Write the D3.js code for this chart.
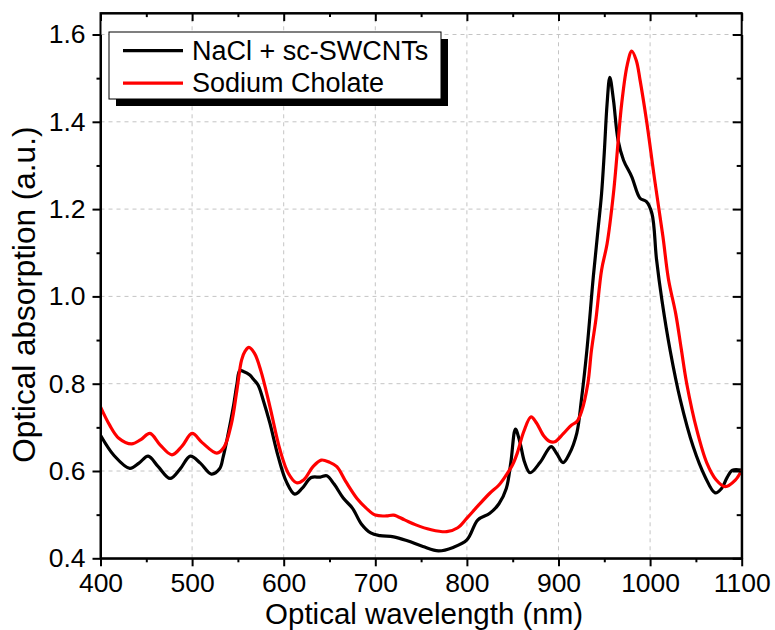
<!DOCTYPE html>
<html lang="en">
<head>
<meta charset="UTF-8">
<title>Optical absorption spectra</title>
<style>
  body { margin: 0; background: #fff; }
  svg { display: block; font-family: "Liberation Sans", Arial, sans-serif; }
  .grid line { stroke: #c4c4c4; stroke-width: 1; stroke-dasharray: 4,4; }
  .axis path, .axis line { stroke: #000; stroke-width: 2; }
  .axis text { font-size: 26.5px; fill: #000; }
  .spectrum { fill: none; stroke-width: 3.2; stroke-linejoin: round; }
  .title { font-size: 29.5px; fill: #000; }
  .legend text { font-size: 27px; fill: #000; }
</style>
<script src="https://d3js.org/d3.v7.min.js"></script>
</head>
<body>
<script>
// spectra: [wavelength nm, absorption a.u.]
const naclSpectrum = [
  [400, 0.682], [415, 0.635], [432, 0.606], [442, 0.618], [452, 0.634],
  [463, 0.610], [476, 0.583], [487, 0.605], [498, 0.634], [509, 0.618],
  [521, 0.593], [530, 0.605], [534, 0.633], [538, 0.671], [545, 0.747],
  [549, 0.800], [552, 0.830], [556, 0.828], [563, 0.820], [567, 0.810],
  [572, 0.797], [578, 0.760], [585, 0.709], [594, 0.633], [603, 0.575],
  [612, 0.547], [620, 0.560], [630, 0.585], [640, 0.586], [647, 0.589],
  [655, 0.570], [665, 0.538], [675, 0.515], [685, 0.478], [695, 0.458],
  [705, 0.452], [720, 0.449], [735, 0.440], [752, 0.427], [769, 0.417],
  [785, 0.425], [800, 0.442], [812, 0.488], [825, 0.503], [835, 0.525],
  [843, 0.560], [848, 0.620], [853, 0.696], [858, 0.665], [863, 0.620],
  [869, 0.596], [880, 0.620], [892, 0.656], [898, 0.640], [905, 0.619],
  [912, 0.640], [920, 0.687], [925, 0.763], [931, 0.877], [938, 1.045],
  [943, 1.150], [947, 1.235], [950, 1.330], [953, 1.440], [956, 1.502],
  [960, 1.450], [965, 1.358], [971, 1.312], [980, 1.274], [989, 1.225],
  [996, 1.217], [1002, 1.190], [1007, 1.085], [1013, 0.990], [1022, 0.875],
  [1033, 0.763], [1047, 0.656], [1060, 0.587], [1071, 0.550], [1078, 0.560],
  [1084, 0.585], [1090, 0.602], [1100, 0.602]
];

const cholateSpectrum = [
  [400, 0.747], [410, 0.705], [420, 0.675], [434, 0.662], [444, 0.672],
  [454, 0.686], [465, 0.660], [478, 0.637], [489, 0.657], [500, 0.686],
  [511, 0.665], [527, 0.641], [535, 0.655], [543, 0.709], [549, 0.786],
  [554, 0.854], [558, 0.875], [562, 0.883], [568, 0.870], [575, 0.830],
  [585, 0.747], [596, 0.648], [605, 0.595], [614, 0.573], [622, 0.580],
  [632, 0.610], [641, 0.625], [650, 0.620], [658, 0.610], [668, 0.575],
  [680, 0.537], [690, 0.515], [700, 0.499], [712, 0.497], [720, 0.499],
  [732, 0.488], [745, 0.476], [760, 0.466], [778, 0.461], [790, 0.470],
  [800, 0.492], [812, 0.520], [825, 0.549], [835, 0.568], [843, 0.591],
  [850, 0.615], [855, 0.641], [862, 0.690], [870, 0.724], [876, 0.710],
  [884, 0.680], [890, 0.668], [896, 0.667], [905, 0.685], [914, 0.705],
  [920, 0.713], [925, 0.735], [932, 0.800], [936, 0.877], [941, 0.950],
  [947, 1.060], [953, 1.120], [960, 1.236], [969, 1.442], [975, 1.530],
  [980, 1.562], [985, 1.540], [989, 1.496], [996, 1.404], [1005, 1.267],
  [1014, 1.137], [1020, 1.040], [1028, 0.960], [1034, 0.880], [1040, 0.800],
  [1051, 0.694], [1062, 0.618], [1072, 0.580], [1082, 0.564], [1093, 0.579],
  [1100, 0.602]
];

const seriesNames = ["NaCl + sc-SWCNTs", "Sodium Cholate"];
const seriesColors = ["#000000", "#ff0000"];
const xMajorTicks = [400, 500, 600, 700, 800, 900, 1000, 1100];
const xMinorTicks = [450, 550, 650, 750, 850, 950, 1050];
const yMajorTicks = [0.4, 0.6, 0.8, 1.0, 1.2, 1.4, 1.6];
const yMinorTicks = [0.5, 0.7, 0.9, 1.1, 1.3, 1.5];

const width = 775, height = 630;
const plotLeft = 100.5, plotRight = 741.7, plotBottom = 558.3;

const x = d3.scaleLinear().domain([400, 1100]).range([plotLeft, plotRight]);
const y = d3.scaleLinear().domain([0.4, 1.6]).range([plotBottom, 34.5]);
const plotTop = y(1.649);

const svg = d3.select("body").append("svg")
  .attr("width", width)
  .attr("height", height);

// dashed grid
const grid = svg.append("g").attr("class", "grid");
grid.selectAll(".gx")
  .data(xMajorTicks.filter(d => d > 400 && d < 1100))
  .enter().append("line")
  .attr("x1", d => x(d)).attr("x2", d => x(d))
  .attr("y1", plotBottom).attr("y2", plotTop);
grid.selectAll(".gy")
  .data(yMajorTicks.filter(d => d > 0.4))
  .enter().append("line")
  .attr("x1", plotLeft).attr("x2", plotRight)
  .attr("y1", d => y(d)).attr("y2", d => y(d));

// curves
const line = d3.line()
  .x(d => x(d[0]))
  .y(d => y(d[1]))
  .curve(d3.curveCatmullRom.alpha(0.5));

svg.append("clipPath").attr("id", "plot-clip")
  .append("rect")
  .attr("x", plotLeft).attr("y", plotTop)
  .attr("width", plotRight - plotLeft).attr("height", plotBottom - plotTop);

const plot = svg.append("g").attr("clip-path", "url(#plot-clip)");
[naclSpectrum, cholateSpectrum].forEach((s, i) => {
  plot.append("path")
    .datum(s)
    .attr("class", "spectrum")
    .attr("stroke", seriesColors[i])
    .attr("d", line);
});

// axes
svg.append("g").attr("class", "axis")
  .attr("transform", `translate(0,${plotBottom})`)
  .call(d3.axisBottom(x).tickValues(xMajorTicks).tickSize(8).tickSizeOuter(0).tickPadding(7).tickFormat(d3.format("d")));
svg.append("g").attr("class", "axis")
  .attr("transform", `translate(0,${plotBottom})`)
  .call(d3.axisBottom(x).tickValues(xMinorTicks).tickSize(4).tickSizeOuter(0).tickFormat(""))
  .select(".domain").remove();

svg.append("g").attr("class", "axis")
  .attr("transform", `translate(${plotLeft},0)`)
  .call(d3.axisLeft(y).tickValues(yMajorTicks).tickSize(8).tickSizeOuter(0).tickPadding(7).tickFormat(d3.format(".1f")));
svg.append("g").attr("class", "axis")
  .attr("transform", `translate(${plotLeft},0)`)
  .call(d3.axisLeft(y).tickValues(yMinorTicks).tickSize(4).tickSizeOuter(0).tickFormat(""))
  .select(".domain").remove();

// mirrored top / right axes with inward ticks
svg.append("g").attr("class", "axis")
  .attr("transform", `translate(0,${plotTop})`)
  .call(d3.axisTop(x).tickValues(xMajorTicks).tickSize(-8).tickSizeOuter(0).tickFormat(""));
svg.append("g").attr("class", "axis")
  .attr("transform", `translate(0,${plotTop})`)
  .call(d3.axisTop(x).tickValues(xMinorTicks).tickSize(-4).tickSizeOuter(0).tickFormat(""))
  .select(".domain").remove();
svg.append("g").attr("class", "axis")
  .attr("transform", `translate(${plotRight},0)`)
  .call(d3.axisRight(y).tickValues(yMajorTicks).tickSize(-9).tickSizeOuter(0).tickFormat(""));
svg.append("g").attr("class", "axis")
  .attr("transform", `translate(${plotRight},0)`)
  .call(d3.axisRight(y).tickValues(yMinorTicks).tickSize(-5).tickSizeOuter(0).tickFormat(""))
  .select(".domain").remove();

// close the frame corners
svg.append("rect")
  .attr("x", plotLeft).attr("y", plotTop)
  .attr("width", plotRight - plotLeft).attr("height", plotBottom - plotTop)
  .attr("fill", "none").attr("stroke", "#000").attr("stroke-width", 2);

// axis titles
svg.append("text").attr("class", "title")
  .attr("x", (plotLeft + plotRight) / 2 + 3).attr("y", 623.5)
  .attr("text-anchor", "middle")
  .text("Optical wavelength (nm)");
svg.append("text").attr("class", "title")
  .attr("transform", `translate(35,${(plotTop + plotBottom) / 2 + 9}) rotate(-90)`)
  .attr("text-anchor", "middle")
  .style("font-size", "31.5px")
  .text("Optical absorption (a.u.)");

// legend with drop shadow
const legend = svg.append("g").attr("class", "legend");
legend.append("rect")
  .attr("x", 116).attr("y", 39).attr("width", 332).attr("height", 67)
  .attr("fill", "#000");
legend.append("rect")
  .attr("x", 109).attr("y", 32).attr("width", 332).attr("height", 67)
  .attr("fill", "#fff").attr("stroke", "#000").attr("stroke-width", 1);
seriesNames.forEach((name, i) => {
  const ly = 50.7 + i * 32.5;
  legend.append("line")
    .attr("x1", 123).attr("x2", 183)
    .attr("y1", ly).attr("y2", ly)
    .attr("stroke", seriesColors[i]).attr("stroke-width", 3.2);
  legend.append("text")
    .attr("x", 192).attr("y", ly + 9)
    .text(name);
});
</script>
</body>
</html>
